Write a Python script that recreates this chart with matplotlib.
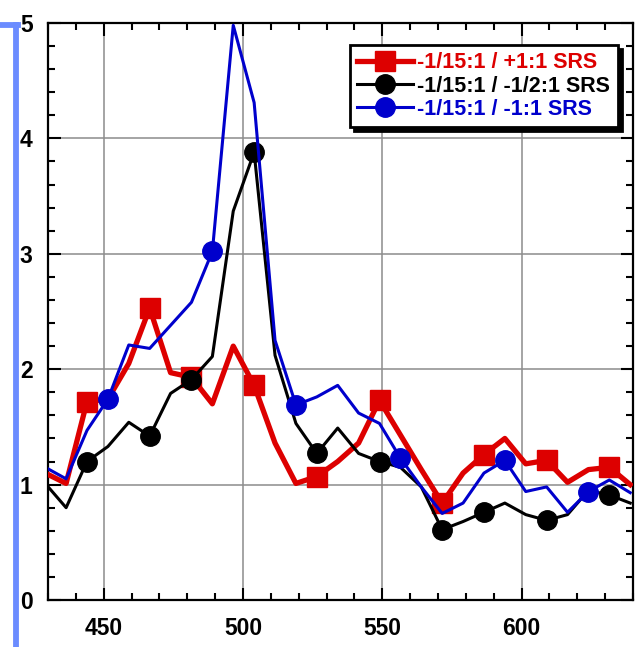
import matplotlib
matplotlib.use('agg')
import matplotlib.pyplot as plt
from matplotlib.lines import Line2D
from matplotlib.ticker import MultipleLocator

# wavelength grid (nm) and the three series
wl = [429, 436.5, 444, 451.5, 459, 466.5, 474, 481.5, 489, 496.5,
      504, 511.5, 519, 526.5, 534, 541.5, 549, 556.5, 564, 571.5,
      579, 586.5, 594, 601.5, 609, 616.5, 624, 631.5, 639]

red_vals = [1.10, 1.01, 1.72, 1.74, 2.05, 2.53, 1.97, 1.93, 1.70, 2.20,
            1.86, 1.36, 1.01, 1.07, 1.20, 1.36, 1.73, 1.43, 1.13, 0.84,
            1.10, 1.26, 1.40, 1.18, 1.21, 1.02, 1.13, 1.15, 1.00]
black_vals = [1.01, 0.80, 1.20, 1.33, 1.54, 1.42, 1.79, 1.91, 2.11, 3.37,
              3.88, 2.12, 1.53, 1.27, 1.49, 1.27, 1.20, 1.15, 0.98, 0.61,
              0.68, 0.76, 0.84, 0.74, 0.69, 0.74, 0.95, 0.91, 0.84]
blue_vals = [1.15, 1.05, 1.47, 1.74, 2.21, 2.18, 2.38, 2.58, 3.02, 4.98,
             4.31, 2.25, 1.69, 1.76, 1.86, 1.62, 1.53, 1.23, 0.98, 0.75,
             0.84, 1.10, 1.21, 0.94, 0.98, 0.76, 0.94, 1.04, 0.93]

labels = ["-1/15:1 / +1:1 SRS", "-1/15:1 / -1/2:1 SRS", "-1/15:1 / -1:1 SRS"]
marks_rb = [2, 5, 7, 10, 13, 16, 19, 21, 24, 27]
marks_blue = [3, 8, 12, 17, 22, 26]

RED = '#dd0000'
BLUE = '#0000cc'

fig = plt.figure(figsize=(6.35, 6.47), dpi=100)
ax = fig.add_axes([48/635, 47/647, 585/635, 577/647])

ax.plot(wl, red_vals, color=RED, lw=3.8, marker='s', ms=15, markevery=marks_rb,
        label=labels[0], zorder=3)
ax.plot(wl, black_vals, color='black', lw=2.2, marker='o', ms=14, markevery=marks_rb,
        label=labels[1], zorder=4)
ax.plot(wl, blue_vals, color=BLUE, lw=2.2, marker='o', ms=14, markevery=marks_blue,
        label=labels[2], zorder=4)

ax.set_xlim(430, 640)
ax.set_ylim(0, 5)
ax.xaxis.set_major_locator(MultipleLocator(50))
ax.xaxis.set_minor_locator(MultipleLocator(10))
ax.yaxis.set_major_locator(MultipleLocator(1))
ax.yaxis.set_minor_locator(MultipleLocator(0.2))
ax.grid(True, which='major', color='#8c8c8c', lw=1.1, zorder=0)

ax.tick_params(which='both', direction='in', top=True, right=True, width=1.5)
ax.tick_params(which='major', length=9)
ax.tick_params(which='minor', length=5)
ax.tick_params(axis='x', which='major', pad=12)
ax.tick_params(axis='y', which='major', pad=11)
for sp in ax.spines.values():
    sp.set_linewidth(1.6)

for t in ax.get_xticklabels() + ax.get_yticklabels():
    t.set_family(['Liberation Sans Narrow', 'Liberation Sans', 'DejaVu Sans'])
    t.set_fontweight('bold')
    t.set_fontsize(16.5)

leg = ax.legend(loc='upper right', bbox_to_anchor=(0.974, 0.962), fancybox=False,
                shadow={'color': 'black', 'alpha': 1, 'ox': 3, 'oy': -3},
                framealpha=1, edgecolor='black', handlelength=2.6, handletextpad=0.2,
                labelspacing=0.1, borderpad=0.35, borderaxespad=0,
                prop={'family': 'Liberation Sans', 'weight': 'bold', 'size': 15.5})
leg.get_frame().set_linewidth(2)
leg.set_zorder(10)
for txt, c in zip(leg.get_texts(), [RED, 'black', BLUE]):
    txt.set_color(c)

# decorative blue bracket on the left edge
fig.add_artist(Line2D([15.5/635, 15.5/635], [1 - 25/647, 0], transform=fig.transFigure,
                      color='#6b8cff', lw=4.2))
fig.add_artist(Line2D([0, 18/635], [1 - 25/647, 1 - 25/647], transform=fig.transFigure,
                      color='#6b8cff', lw=4.2))

fig.savefig('out.png', dpi=100)
